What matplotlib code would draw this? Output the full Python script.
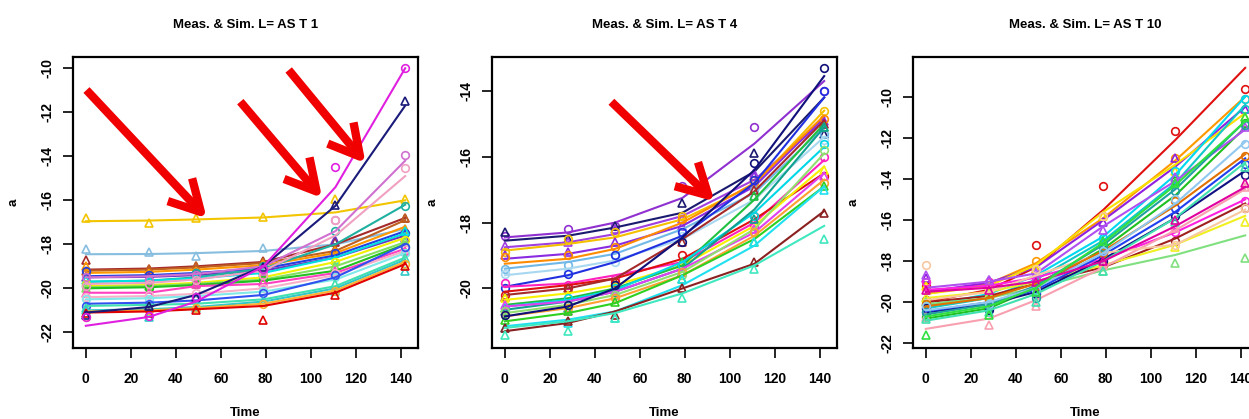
import matplotlib
matplotlib.use('Agg')
from matplotlib import pyplot as plt

# measurement times (shared by all panels)
times = [0, 28, 49, 79, 111, 142]

titles = ['Meas. & Sim. L= AS T 1', 'Meas. & Sim. L= AS T 4', 'Meas. & Sim. L= AS T 10']

# ---- panel 1 : simulated lines, measured points, colour, marker
sim_t1 = [
    [-16.95, -16.92, -16.87, -16.78, -16.55, -16.0],
    [-18.45, -18.44, -18.4, -18.3, -18.0, -17.3],
    [-19.15, -19.1, -19.0, -18.8, -18.0, -16.8],
    [-19.2, -19.15, -19.05, -18.85, -18.3, -16.9],
    [-19.3, -19.25, -19.15, -18.95, -18.4, -17.2],
    [-19.45, -19.4, -19.3, -19.1, -18.5, -17.4],
    [-19.5, -19.48, -19.4, -19.2, -18.6, -17.6],
    [-19.7, -19.65, -19.5, -19.1, -18.0, -16.2],
    [-19.7, -19.65, -19.55, -19.3, -18.6, -17.5],
    [-19.9, -19.85, -19.75, -19.5, -18.8, -17.7],
    [-19.95, -19.9, -19.8, -19.6, -19.0, -17.9],
    [-20.0, -19.95, -19.85, -19.65, -19.2, -18.0],
    [-20.2, -20.2, -19.9, -19.8, -19.3, -18.2],
    [-20.4, -20.35, -20.25, -20.0, -19.4, -18.3],
    [-20.5, -20.45, -20.35, -20.15, -19.6, -18.4],
    [-20.7, -20.65, -20.55, -20.3, -19.5, -18.0],
    [-20.8, -20.75, -20.7, -20.5, -19.9, -18.6],
    [-21.0, -20.95, -20.85, -20.6, -20.0, -18.7],
    [-21.05, -21.0, -20.9, -20.7, -20.1, -18.8],
    [-21.1, -21.05, -20.95, -20.8, -20.2, -18.9],
    [-19.5, -19.45, -19.35, -19.0, -17.4, -14.2],
    [-19.8, -19.75, -19.6, -19.2, -17.6, -14.9],
    [-21.1, -20.85, -20.3, -19.0, -16.25, -11.7],
    [-21.7, -21.3, -20.6, -19.0, -15.4, -10.0],
]
meas_t1 = [
    [-16.8, -17.05, -16.82, -16.75, -15.95, -15.95],
    [-18.2, -18.35, -18.55, -18.15, -17.9, -17.3],
    [-18.7, -19.1, -19.0, -18.75, -17.9, -16.8],
    [-19.2, -19.1, -19.0, -18.8, -18.2, -16.8],
    [-19.0, -19.3, -19.2, -18.9, -18.3, -17.3],
    [-19.2, -19.4, -19.3, -19.1, -18.4, -17.5],
    [-19.5, -19.5, -19.3, -19.2, -17.8, -17.7],
    [-19.9, -19.7, -19.3, -19.0, -17.4, -16.25],
    [-19.6, -19.6, -19.5, -19.3, -18.7, -17.4],
    [-19.8, -19.9, -19.7, -19.5, -18.8, -17.8],
    [-20.0, -19.9, -19.8, -19.6, -19.0, -17.9],
    [-19.9, -20.0, -19.8, -19.6, -19.3, -18.1],
    [-20.2, -20.2, -19.8, -19.7, -19.2, -18.3],
    [-20.4, -20.3, -20.2, -20.0, -19.3, -18.2],
    [-20.5, -20.5, -20.4, -20.1, -19.5, -18.4],
    [-20.8, -20.7, -20.5, -20.2, -19.4, -18.1],
    [-20.9, -20.8, -20.8, -20.6, -19.8, -18.6],
    [-21.0, -21.3, -20.9, -20.6, -20.1, -19.2],
    [-21.3, -21.0, -20.9, -20.7, -20.1, -18.9],
    [-21.1, -21.1, -21.0, -21.45, -20.3, -19.0],
    [-19.5, -19.6, -19.4, -19.2, -16.9, -13.95],
    [-19.9, -19.8, -19.6, -19.4, -16.9, -14.55],
    [-21.2, -20.8, -20.4, -19.05, -16.2, -11.5],
    [-21.3, -21.25, -20.4, -19.1, -14.5, -10.0],
]
cols_t1 = ['#F2C500', '#87BEE0', '#A52A2A', '#C06020', '#FF9900', '#2040E0',
           '#7030C0', '#20B0A0', '#00E0E0', '#F0F000', '#80E060', '#20C020',
           '#FF40C0', '#F8B0C8', '#80E8E8', '#3050F0', '#40E0B0', '#30C8C8',
           '#FFB030', '#E00000', '#D070D0', '#F0A0C0', '#1A1A7A', '#E020E0']
mark_t1 = ['^', '^', '^', '^', '^', 'o', '^', 'o', '^', 'o', '^', 'o',
           '^', 'o', 'o', 'o', '^', '^', 'o', '^', 'o', 'o', '^', 'o']

# ---- panel 2
sim_t4 = [
    [-18.45, -18.3, -18.0, -17.25, -15.6, -13.7],
    [-18.55, -18.4, -18.15, -17.7, -16.45, -14.2],
    [-18.75, -18.6, -18.35, -17.8, -16.7, -14.9],
    [-18.85, -18.65, -18.45, -17.9, -16.85, -14.6],
    [-19.1, -18.95, -18.7, -18.1, -16.9, -14.8],
    [-19.25, -19.1, -18.8, -18.0, -16.8, -14.75],
    [-19.4, -19.2, -18.95, -18.2, -17.1, -15.1],
    [-19.6, -19.4, -19.15, -18.5, -17.3, -15.4],
    [-19.95, -19.6, -19.2, -18.4, -16.8, -14.2],
    [-19.95, -19.85, -19.6, -19.2, -18.0, -16.1],
    [-20.1, -19.9, -19.7, -19.1, -17.9, -16.5],
    [-20.2, -20.0, -19.7, -18.5, -17.05, -14.9],
    [-20.35, -20.15, -19.9, -19.3, -18.1, -16.3],
    [-20.5, -20.3, -20.0, -19.3, -17.3, -15.0],
    [-20.55, -20.35, -20.05, -19.2, -17.7, -15.7],
    [-20.65, -20.4, -20.1, -19.4, -17.6, -15.1],
    [-20.55, -20.4, -20.1, -19.4, -18.3, -16.5],
    [-20.75, -20.5, -20.2, -19.5, -18.2, -15.9],
    [-20.85, -20.6, -20.3, -19.6, -18.4, -16.7],
    [-21.0, -20.75, -20.45, -19.6, -18.5, -16.9],
    [-21.15, -20.95, -20.7, -19.9, -18.7, -16.9],
    [-21.3, -21.05, -20.7, -20.0, -19.25, -17.65],
    [-21.2, -21.0, -20.75, -20.15, -19.3, -18.1],
    [-20.85, -20.55, -20.0, -18.45, -16.4, -13.55],
]
meas_t4 = [
    [-18.4, -18.2, -18.1, -16.9, -15.1, -14.0],
    [-18.3, -18.5, -18.1, -17.4, -15.9, -15.3],
    [-18.7, -18.6, -18.2, -17.9, -16.5, -15.0],
    [-18.9, -18.5, -18.3, -17.8, -16.8, -14.6],
    [-19.0, -18.9, -18.6, -18.1, -16.6, -14.9],
    [-19.05, -19.0, -18.75, -17.9, -16.7, -14.85],
    [-19.4, -19.3, -19.0, -18.3, -17.0, -15.3],
    [-19.55, -19.5, -19.2, -18.4, -17.2, -15.5],
    [-20.0, -19.55, -19.0, -18.3, -16.7, -14.0],
    [-19.85, -19.9, -19.7, -19.3, -18.1, -16.0],
    [-20.2, -20.0, -19.8, -19.0, -17.8, -16.6],
    [-20.25, -20.0, -19.8, -18.6, -17.0, -15.0],
    [-20.3, -20.2, -19.9, -19.3, -18.2, -16.4],
    [-20.6, -20.4, -20.1, -19.2, -17.2, -15.1],
    [-20.6, -20.3, -20.0, -19.3, -17.8, -15.6],
    [-20.7, -20.6, -20.1, -19.5, -17.9, -15.1],
    [-20.5, -20.7, -20.2, -19.5, -18.2, -16.6],
    [-20.7, -20.5, -20.2, -19.6, -18.3, -15.8],
    [-20.8, -20.6, -20.3, -19.5, -18.3, -16.8],
    [-20.95, -20.7, -20.4, -19.7, -18.6, -16.9],
    [-21.2, -21.05, -20.9, -19.7, -18.6, -17.0],
    [-21.2, -21.0, -20.8, -20.0, -19.2, -17.7],
    [-21.4, -21.3, -20.9, -20.3, -19.4, -18.5],
    [-20.8, -20.5, -19.9, -18.6, -16.2, -13.3],
]
cols_t4 = ['#9030D0', '#1A1A70', '#A040E0', '#F5C000', '#8A2BE2', '#FF8C00',
           '#70B8E8', '#A8D8F0', '#2030E0', '#FF20C0', '#E01010', '#A52A2A',
           '#F8F000', '#20C040', '#00D8E8', '#10A090', '#E040F0', '#90E070',
           '#FFA030', '#30D020', '#20E0F0', '#8B2020', '#40E8C0', '#10107A']
mark_t4 = ['o', '^', '^', 'o', '^', 'o', 'o', 'o', 'o', 'o', 'o', '^',
           '^', '^', 'o', '^', '^', 'o', 'o', '^', '^', '^', '^', 'o']

# ---- panel 3
sim_t10 = [
    [-20.0, -19.4, -18.3, -15.5, -12.1, -8.6],
    [-19.6, -19.1, -18.1, -15.9, -13.1, -10.0],
    [-19.5, -19.05, -18.3, -16.0, -13.4, -10.5],
    [-19.6, -19.2, -18.2, -15.6, -13.3, -10.8],
    [-20.2, -19.6, -18.7, -16.8, -13.8, -10.0],
    [-20.3, -19.8, -18.9, -17.0, -14.2, -10.4],
    [-20.8, -20.3, -19.3, -17.4, -14.8, -11.5],
    [-19.4, -19.2, -18.8, -17.9, -16.6, -15.0],
    [-20.0, -19.7, -19.1, -18.3, -16.9, -15.2],
    [-19.8, -19.5, -19.0, -18.2, -17.2, -15.8],
    [-20.1, -19.8, -19.3, -18.45, -17.7, -16.75],
    [-20.5, -20.1, -19.5, -17.9, -15.9, -13.6],
    [-20.45, -20.0, -19.4, -17.7, -15.6, -13.0],
    [-19.3, -19.0, -18.6, -16.3, -14.1, -11.6],
    [-21.3, -20.8, -19.9, -18.3, -16.5, -14.5],
    [-19.9, -19.5, -18.7, -17.6, -17.2, -15.5],
    [-20.2, -19.8, -19.1, -17.5, -15.3, -12.8],
    [-20.6, -20.1, -19.2, -17.2, -14.5, -11.2],
    [-20.4, -20.0, -19.3, -17.6, -15.2, -12.2],
    [-20.9, -20.4, -19.6, -18.0, -15.9, -13.2],
    [-19.5, -19.3, -19.0, -18.0, -16.3, -14.4],
    [-20.7, -20.2, -19.3, -17.1, -14.3, -11.2],
]
meas_t10 = [
    [-19.2, -19.5, -17.2, -14.35, -11.65, -9.65],
    [-19.0, -19.0, -18.0, -15.8, -13.0, -10.1],
    [-18.8, -18.9, -18.4, -16.1, -13.0, -10.6],
    [-19.2, -19.2, -18.4, -15.8, -13.6, -11.0],
    [-20.3, -19.6, -18.9, -16.9, -13.6, -10.1],
    [-20.1, -19.8, -19.0, -17.1, -14.0, -10.6],
    [-20.7, -20.3, -19.3, -17.3, -14.1, -11.3],
    [-19.0, -19.0, -18.9, -17.9, -16.6, -15.1],
    [-19.9, -19.8, -19.3, -18.2, -17.0, -15.4],
    [-19.8, -19.6, -19.1, -18.1, -17.3, -16.1],
    [-20.0, -19.7, -19.4, -18.5, -18.1, -17.85],
    [-20.3, -20.4, -19.6, -18.0, -15.8, -13.8],
    [-20.5, -20.2, -19.5, -17.6, -15.4, -13.3],
    [-18.7, -18.9, -18.6, -16.5, -13.9, -11.5],
    [-20.7, -21.1, -20.2, -18.2, -16.4, -14.4],
    [-18.2, -19.4, -18.4, -15.8, -17.2, -15.4],
    [-20.1, -19.9, -19.2, -17.6, -15.1, -12.9],
    [-20.5, -20.2, -19.8, -17.3, -14.6, -11.4],
    [-20.2, -20.1, -19.4, -17.5, -15.0, -12.3],
    [-20.8, -20.5, -20.0, -18.5, -16.1, -13.4],
    [-19.4, -19.4, -19.0, -18.0, -16.0, -14.2],
    [-21.6, -20.6, -19.5, -17.0, -14.2, -11.0],
]
cols_t10 = ['#E01010', '#FF9900', '#9020E0', '#F8E000', '#00D8F0', '#10C8C8',
            '#20C020', '#FF20E0', '#A02020', '#F0F020', '#80E080', '#101080',
            '#2040F0', '#B050F0', '#F8A0B0', '#F8C8A0', '#E07000', '#20A0A0',
            '#90C8F0', '#40E0B0', '#E000A0', '#30E040']
mark_t10 = ['o', 'o', '^', '^', 'o', 'o', 'o', 'o', 'o', '^', '^', 'o',
            'o', '^', '^', 'o', 'o', 'o', 'o', '^', '^', '^']

# red pointer arrows drawn on the chart: (panel, tail, head) in data units
arrows = [
    (0, (0.3, -10.99), (53.8, -16.82)),
    (0, (68.7, -11.52), (105.1, -15.9)),
    (0, (90.2, -10.08), (124.4, -14.32)),
    (1, (47.4, -14.33), (93.3, -17.36)),
]


def draw_panel(ax, title, sims, meas, cols, marks, ylim, yticks):
    for s, m, c, mk in zip(sims, meas, cols, marks):
        ax.plot(times, s, '-', color=c, lw=1.5)
        ax.plot(times, m, mk, color=c, mfc='none', ms=5.5, mew=1.2, ls='none')

    ax.set_xlim(-5.7, 147.7)
    ax.set_ylim(ylim)
    ax.set_xticks([0, 20, 40, 60, 80, 100, 120, 140])
    ax.set_yticks(yticks)
    ax.set_yticklabels([str(v) for v in yticks], rotation=90, va='center')
    ax.tick_params(direction='out', length=7, width=1.2, labelsize=10)
    ax.tick_params(axis='x', pad=10)
    ax.tick_params(axis='y', pad=6)
    for lab in ax.get_xticklabels() + ax.get_yticklabels():
        lab.set_fontweight('bold')
    for sp in ax.spines.values():
        sp.set_linewidth(1.6)

    ax.set_title(title, fontsize=9.5, fontweight='bold', y=1.0, pad=21)
    ax.set_xlabel('Time', fontsize=9.5, fontweight='bold')
    ax.xaxis.set_label_coords(0.5, -0.225)
    ax.xaxis.label.set_va('center')
    ax.set_ylabel('a', fontsize=9.5, fontweight='bold')
    ax.yaxis.set_label_coords(-0.171, 0.5)
    ax.yaxis.label.set_va('center')


def main():
    plt.rcParams['font.family'] = ['Liberation Sans', 'DejaVu Sans']
    fig = plt.figure(figsize=(12.49, 4.19), dpi=100)

    lefts = [73 / 1249, 492 / 1249, 913 / 1249]
    width = 345 / 1249
    bottom = 1 - 348 / 419
    height = 291 / 419

    panels = [
        (sim_t1, meas_t1, cols_t1, mark_t1, (-22.71, -9.49), [-10, -12, -14, -16, -18, -20, -22]),
        (sim_t4, meas_t4, cols_t4, mark_t4, (-21.81, -12.97), [-14, -16, -18, -20]),
        (sim_t10, meas_t10, cols_t10, mark_t10, (-22.23, -8.07), [-10, -12, -14, -16, -18, -20, -22]),
    ]
    axes = []
    for i, (sims, meas, cols, marks, ylim, yt) in enumerate(panels):
        ax = fig.add_axes([lefts[i], bottom, width, height])
        draw_panel(ax, titles[i], sims, meas, cols, marks, ylim, yt)
        axes.append(ax)

    for idx, tail, head in arrows:
        axes[idx].annotate('', xy=head, xytext=tail, annotation_clip=False,
                           arrowprops=dict(arrowstyle='->,head_length=1.1,head_width=0.6',
                                           color='#F00000', lw=6, mutation_scale=20,
                                           shrinkA=0, shrinkB=0, capstyle='butt'))

    fig.savefig('out.png', dpi=100)
    plt.close()


if __name__ == '__main__':
    main()
